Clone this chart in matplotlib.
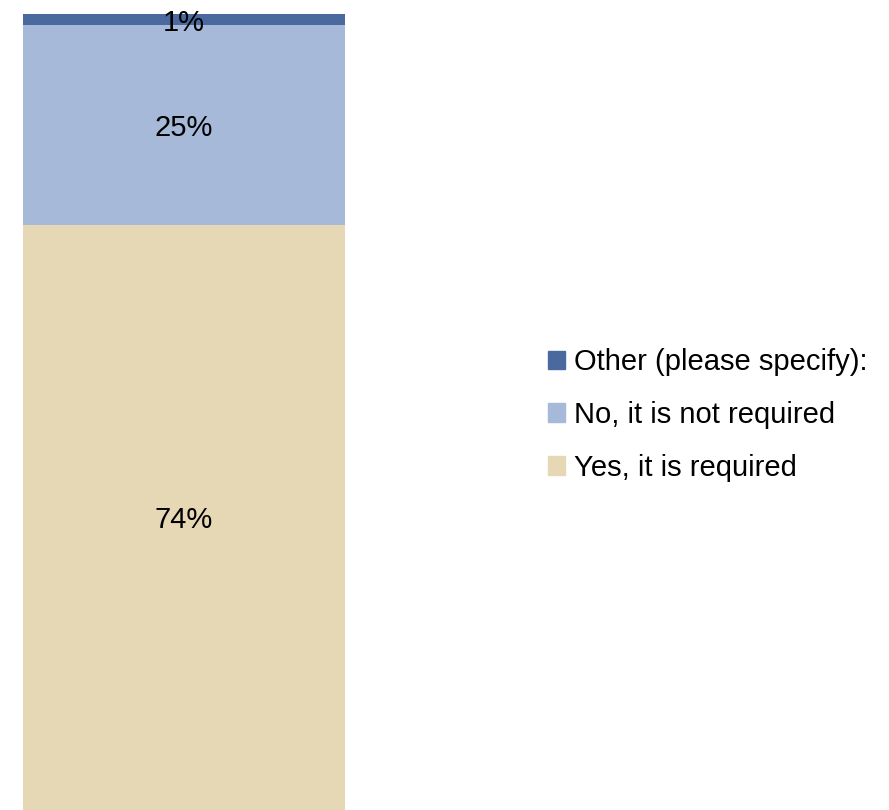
import matplotlib.pyplot as plt
from matplotlib.patches import Patch

# survey answers, bottom to top
labels = ["Yes, it is required", "No, it is not required", "Other (please specify):"]
values = [73.5, 25.1, 1.4]
colors = ["#E6D8B4", "#A7B9D9", "#4A6A9F"]

plt.rcParams['font.family'] = ['Liberation Sans', 'DejaVu Sans']

fig = plt.figure(figsize=(8.89, 8.10), dpi=100)
ax = fig.add_axes([23 / 889, 0, 322 / 889, 796 / 810])

bottom = 0
for lab, val, col in zip(labels, values, colors):
    ax.bar(0, val, width=1, bottom=bottom, color=col, label=lab)
    ax.text(0, bottom + val / 2, f"{val:.0f}%", ha='center', va='center_baseline', fontsize=21)
    bottom += val

ax.set_xlim(-0.5, 0.5)
ax.set_ylim(0, sum(values))
ax.axis('off')

handles = [Patch(color=c, label=l) for l, c in zip(labels, colors)][::-1]
fig.legend(handles=handles, loc='center left', bbox_to_anchor=(536 / 889, 1 - 415 / 810),
           frameon=False, fontsize=21, handlelength=0.6, handleheight=0.6,
           handletextpad=0.3, labelspacing=0.85, borderaxespad=0)

fig.savefig("out.png", dpi=100)
